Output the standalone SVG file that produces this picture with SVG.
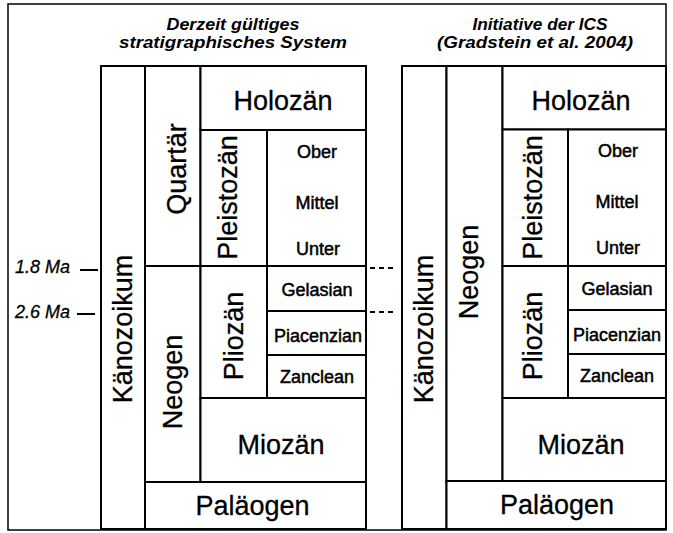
<svg xmlns="http://www.w3.org/2000/svg" width="673" height="533" viewBox="0 0 673 533">
<style>
.cell{fill:#fff;stroke:#000;stroke-width:2}
.big{font-family:"Liberation Sans",Arial,sans-serif;font-size:27px;fill:#000;stroke:#000;stroke-width:0.3;text-anchor:middle}
.sm{font-family:"Liberation Sans",Arial,sans-serif;font-size:18px;fill:#000;stroke:#000;stroke-width:0.5;text-anchor:middle}
.ttl{font-family:"Liberation Sans",Arial,sans-serif;font-size:17px;font-weight:bold;font-style:italic;fill:#000;text-anchor:middle}
.ma{font-family:"Liberation Sans",Arial,sans-serif;font-size:18px;font-style:italic;fill:#000;stroke:#000;stroke-width:0.3}
.tick{stroke:#000;stroke-width:2}
.dot{stroke:#000;stroke-width:2;stroke-dasharray:5 4}
</style>
<rect x="0" y="0" width="673" height="533" fill="#fff"/>
<rect id="frame" x="8" y="4" width="658" height="526" fill="none" stroke="#000" stroke-width="1.5"/>

<g id="title-left">
<text class="ttl" x="233" y="30" textLength="133" lengthAdjust="spacingAndGlyphs">Derzeit gültiges</text>
<text class="ttl" x="233" y="48" textLength="228" lengthAdjust="spacingAndGlyphs">stratigraphisches System</text>
</g>
<g id="title-right">
<text class="ttl" x="540" y="30" textLength="135" lengthAdjust="spacingAndGlyphs">Initiative der ICS</text>
<text class="ttl" x="535" y="48" textLength="196" lengthAdjust="spacingAndGlyphs">(Gradstein et al. 2004)</text>
</g>

<g id="label-1-8">
<text class="ma" x="15" y="273">1.8 Ma</text>
</g>
<g id="label-2-6">
<text class="ma" x="15" y="318">2.6 Ma</text>
</g>

<!-- left table -->
<g id="L-kaenozoikum"><rect class="cell" x="101" y="66" width="44" height="463"/>
<text class="big" transform="translate(132,329) rotate(-90)">Känozoikum</text></g>
<g id="L-quartaer"><rect class="cell" x="145" y="66" width="55.5" height="200"/>
<text class="big" transform="translate(186,169) rotate(-90)">Quartär</text></g>
<g id="L-neogen"><rect class="cell" x="145" y="266" width="55.5" height="216"/>
<text class="big" transform="translate(182,382) rotate(-90)">Neogen</text></g>
<g id="L-holozaen"><rect class="cell" x="200.5" y="66" width="165.5" height="64"/>
<text class="big" x="283" y="110">Holozän</text></g>
<g id="L-pleistozaen"><rect class="cell" x="200.5" y="130" width="66.5" height="136"/>
<text class="big" transform="translate(237,197.5) rotate(-90)">Pleistozän</text></g>
<g id="L-pleistozaen-stufen"><rect class="cell" x="267" y="130" width="99" height="136"/>
<text class="sm" x="317" y="158">Ober</text>
<text class="sm" x="317" y="209">Mittel</text>
<text class="sm" x="318" y="255">Unter</text></g>
<g id="L-pliozaen"><rect class="cell" x="200.5" y="266" width="66.5" height="132"/>
<text class="big" transform="translate(242.5,336) rotate(-90)">Pliozän</text></g>
<g id="L-gelasian"><rect class="cell" x="267" y="266" width="99" height="45"/>
<text class="sm" x="317" y="296">Gelasian</text></g>
<g id="L-piacenzian"><rect class="cell" x="267" y="311" width="99" height="44"/>
<text class="sm" x="318" y="341.5">Piacenzian</text></g>
<g id="L-zanclean"><rect class="cell" x="267" y="355" width="99" height="43"/>
<text class="sm" x="317" y="383">Zanclean</text></g>
<g id="L-miozaen"><rect class="cell" x="200.5" y="398" width="165.5" height="84"/>
<text class="big" x="281" y="454">Miozän</text></g>
<g id="L-palaeogen"><rect class="cell" x="145" y="482" width="221" height="47"/>
<text class="big" x="252.5" y="515">Paläogen</text></g>

<!-- right table -->
<g id="R-kaenozoikum"><rect class="cell" x="402" y="66" width="44.5" height="463"/>
<text class="big" transform="translate(433,329) rotate(-90)">Känozoikum</text></g>
<g id="R-neogen"><rect class="cell" x="446.5" y="66" width="56" height="416"/>
<text class="big" transform="translate(478,272) rotate(-90)">Neogen</text></g>
<g id="R-holozaen"><rect class="cell" x="502.5" y="66" width="163.5" height="63.5"/>
<text class="big" x="581" y="110">Holozän</text></g>
<g id="R-pleistozaen"><rect class="cell" x="502.5" y="129.5" width="65.5" height="136.5"/>
<text class="big" transform="translate(541.5,197.5) rotate(-90)">Pleistozän</text></g>
<g id="R-pleistozaen-stufen"><rect class="cell" x="568" y="129.5" width="98" height="136.5"/>
<text class="sm" x="618" y="157">Ober</text>
<text class="sm" x="617" y="208">Mittel</text>
<text class="sm" x="618" y="254">Unter</text></g>
<g id="R-pliozaen"><rect class="cell" x="502.5" y="266" width="65.5" height="132"/>
<text class="big" transform="translate(541.5,336) rotate(-90)">Pliozän</text></g>
<g id="R-gelasian"><rect class="cell" x="568" y="266" width="98" height="44"/>
<text class="sm" x="617" y="295">Gelasian</text></g>
<g id="R-piacenzian"><rect class="cell" x="568" y="310" width="98" height="44"/>
<text class="sm" x="617" y="341">Piacenzian</text></g>
<g id="R-zanclean"><rect class="cell" x="568" y="354" width="98" height="44"/>
<text class="sm" x="617" y="382">Zanclean</text></g>
<g id="R-miozaen"><rect class="cell" x="502.5" y="398" width="163.5" height="83"/>
<text class="big" x="581" y="454">Miozän</text></g>
<g id="R-palaeogen"><rect class="cell" x="446.5" y="481" width="219.5" height="48"/>
<text class="big" x="557" y="514">Paläogen</text></g>

<g id="connectors">
<line class="tick" x1="80" y1="270" x2="98" y2="270"/>
<line class="tick" x1="77" y1="314" x2="95" y2="314"/>
<line class="dot" x1="370" y1="268" x2="395" y2="268"/>
<line class="dot" x1="370" y1="312" x2="395" y2="312"/>
</g>
</svg>
